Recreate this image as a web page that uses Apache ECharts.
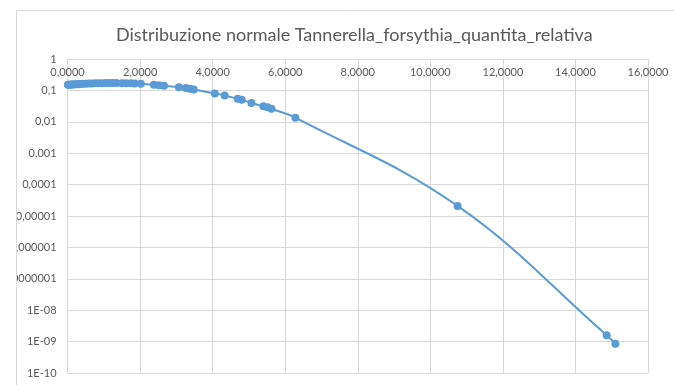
<!DOCTYPE html>
<html>
<head>
<meta charset="utf-8">
<script src="https://cdn.jsdelivr.net/npm/echarts@6/dist/echarts.min.js"></script>
<style>html,body{margin:0;padding:0;background:#fff}#c{width:674px;height:385px}</style>
</head>
<body>
<div id="c"></div>
<script>
var titleText = 'Distribuzione normale Tannerella_forsythia_quantita_relativa';
var xValues = [0.01,0.03,0.06,0.09,0.12,0.16,0.20,0.25,0.30,0.36,0.42,0.50,0.58,0.66,0.75,0.85,0.95,1.05,1.15,1.25,1.35,1.50,1.62,1.75,1.85,
  2.02,2.38,2.52,2.66,3.07,3.26,3.37,3.48,4.06,4.33,4.69,4.80,5.07,5.40,5.51,5.62,6.28,10.75,14.86,15.10];
var yValues = [0.150,0.151,0.152,0.153,0.154,0.155,0.156,0.158,0.159,0.161,0.162,0.164,0.165,0.167,0.168,0.169,0.170,0.171,0.171,0.171,0.171,0.170,0.169,0.168,0.166,
  0.163,0.152,0.146,0.141,0.127,0.119,0.113,0.106,0.080,0.069,0.054,0.050,0.040,0.031,0.029,0.026,0.0135,2.1e-5,1.6e-9,8.6e-10];
var xTicks = [0,2,4,6,8,10,12,14,16];
var yTickLabels = ['1','0,1','0,01','0,001','0,0001','0,00001','0,000001','0,0000001','1E-08','1E-09','1E-10'];

var data = xValues.map(function(x,i){return [x,yValues[i]];});
var chart = echarts.init(document.getElementById('c'));
var txt = '#595959', grid = '#d9d9d9';
chart.setOption({
  animation:false,
  title:{text:titleText,left:111,top:21,textStyle:{fontFamily:'Lato',fontSize:18,fontWeight:'normal',color:txt}},
  grid:{left:66,right:26,top:59,bottom:12,containLabel:false},
  xAxis:{type:'value',position:'top',min:xTicks[0],max:xTicks[xTicks.length-1],interval:2,
    axisLine:{show:true,lineStyle:{color:grid,width:1}},axisTick:{show:false},
    axisLabel:{inside:true,margin:8,fontFamily:'Lato',fontSize:11,color:txt,
      formatter:function(v){return v.toFixed(4).replace('.',',');}},
    splitLine:{show:true,lineStyle:{color:grid,width:1}}},
  yAxis:{type:'log',logBase:10,min:1e-10,max:1,interval:1,
    axisLine:{show:true,lineStyle:{color:grid,width:1}},axisTick:{show:false},
    axisLabel:{margin:11,fontFamily:'Lato',fontSize:11,color:txt,
      formatter:function(v){var e=Math.round(Math.log10(v));return yTickLabels[-e];}},
    splitLine:{show:true,lineStyle:{color:grid,width:1}}},
  series:[{type:'line',data:data,smooth:0.4,symbol:'circle',symbolSize:8,showSymbol:true,
    itemStyle:{color:'#5B9BD5'},lineStyle:{color:'#5B9BD5',width:2}}],
  graphic:[
    {type:'rect',z:100,shape:{x:0,y:0,width:17,height:385},style:{fill:'#fff'}},
    {type:'line',z:101,shape:{x1:16.5,y1:10.5,x2:16.5,y2:385},style:{stroke:grid,lineWidth:1}},
    {type:'line',z:101,shape:{x1:16.5,y1:10.5,x2:674,y2:10.5},style:{stroke:grid,lineWidth:1}}
  ]
});
</script>
</body>
</html>
